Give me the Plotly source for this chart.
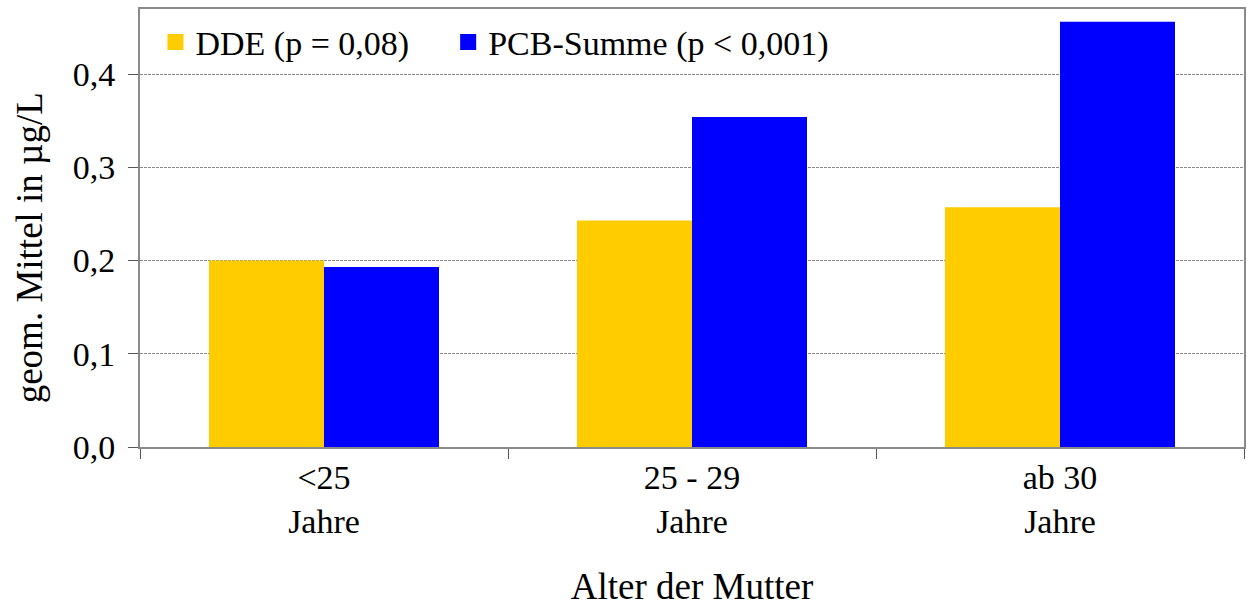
import plotly.graph_objects as go

# Geometrische Mittel nach Alter der Mutter
categories = ["<25<br>Jahre", "25 - 29<br>Jahre", "ab 30<br>Jahre"]
dde_values = [0.200, 0.243, 0.257]
pcb_values = [0.193, 0.354, 0.456]
series_names = ["DDE (p = 0,08)", "PCB-Summe (p < 0,001)"]
series_colors = ["#FFCC00", "#0000FF"]
y_ticks = [0.0, 0.1, 0.2, 0.3, 0.4]

font_family = "Liberation Serif, Times New Roman, serif"
axis_grey = "#8a8a8a"

fig = go.Figure()
for name, vals, col in zip(series_names, [dde_values, pcb_values], series_colors):
    fig.add_trace(go.Bar(x=categories, y=vals, name=name, showlegend=False,
                         marker=dict(color=col, line=dict(width=0))))

# legend entries with bigger square swatches
pad = "\u00a0" * 4
for i, (name, col) in enumerate(zip(series_names, series_colors)):
    fig.add_trace(go.Scatter(x=[None], y=[None], mode="markers",
                             name=name + (pad if i == 0 else ""),
                             marker=dict(symbol="square", size=23, color=col)))

# y title as annotation (sits a bit below the plot centre, like the original)
fig.add_annotation(text="geom. Mittel in µg/L", textangle=-90,
                   xref="paper", yref="paper", x=-0.1, y=0.455,
                   xanchor="center", yanchor="middle", showarrow=False,
                   font=dict(family=font_family, size=37))

fig.update_layout(
    width=1247, height=607,
    margin=dict(l=140, r=3, t=9, b=160),
    paper_bgcolor="white", plot_bgcolor="white",
    font=dict(family=font_family, size=34, color="black"),
    separators=", ",
    barmode="group",
    bargap=0.375, bargroupgap=0,
    legend=dict(
        orientation="h",
        x=0.014, xanchor="left",
        y=0.99, yanchor="top",
        bgcolor="rgba(0,0,0,0)",
        font=dict(size=34),
        itemclick=False,
    ),
    xaxis=dict(
        title=dict(text="Alter der Mutter", standoff=51,
                   font=dict(family=font_family, size=37)),
        tickson="boundaries",
        ticks="outside", ticklen=10, tickcolor="#555",
        showline=True, linecolor=axis_grey, linewidth=2, mirror=True,
        showgrid=False,
        ticklabelstandoff=-1,
        automargin=False,
    ),
    yaxis=dict(
        range=[0, 0.4697],
        tickvals=y_ticks,
        tickformat=".1f",
        ticks="outside", ticklen=10, tickcolor="#555",
        showline=True, linecolor=axis_grey, linewidth=2, mirror=True,
        showgrid=True, gridcolor=axis_grey, gridwidth=1, griddash="3px,1px",
        zeroline=False,
        ticklabelstandoff=6,
        automargin=False,
    ),
)

# drop the default page margin so the figure sits at the window corner
fig.write_html("out.html", config={"displayModeBar": False},
               post_script="document.body.style.margin='0';")
